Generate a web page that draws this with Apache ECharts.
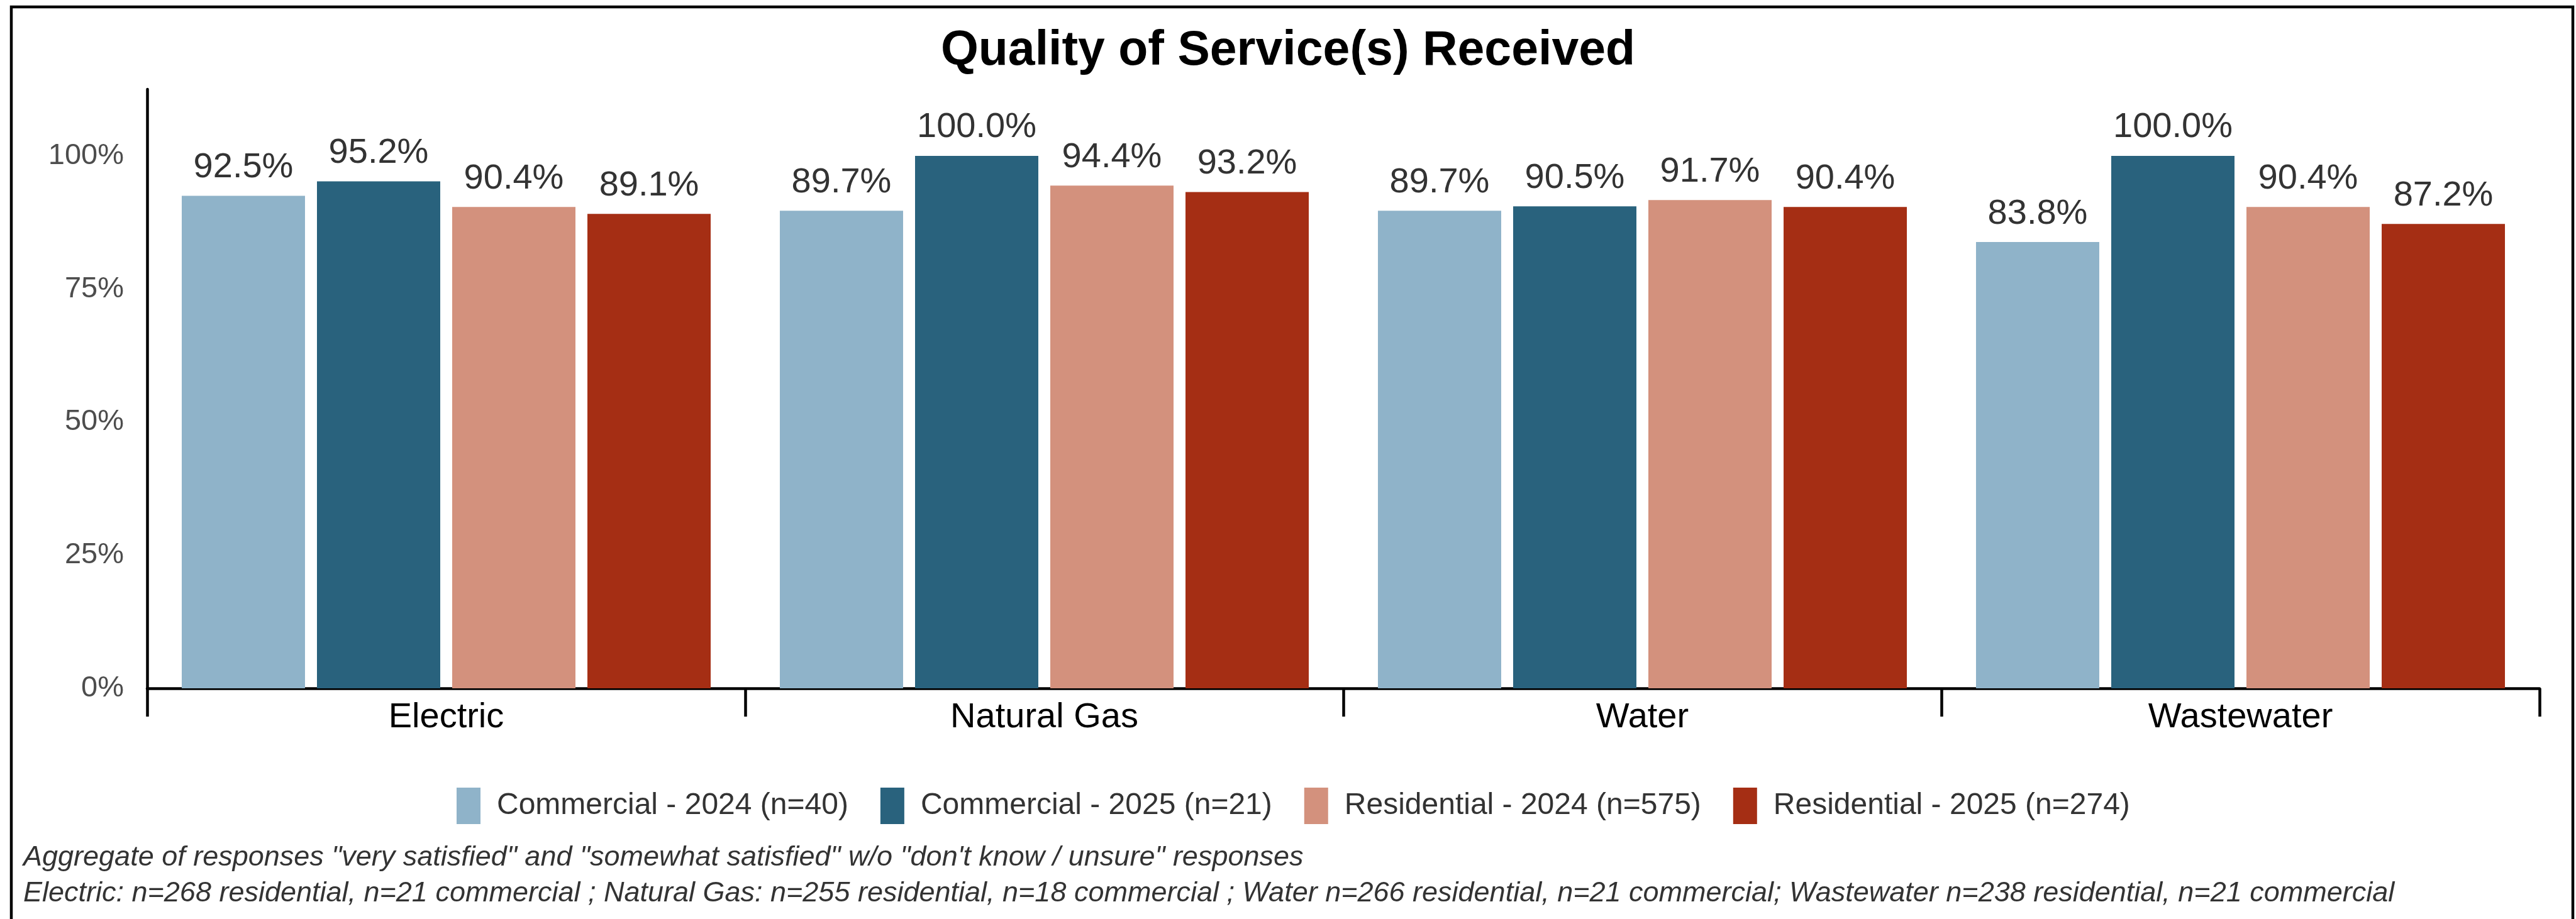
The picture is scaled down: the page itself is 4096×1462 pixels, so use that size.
<!DOCTYPE html>
<html>
<head>
<meta charset="utf-8">
<title>Quality of Service(s) Received</title>
<script src="https://cdn.jsdelivr.net/npm/echarts@6/dist/echarts.min.js"></script>
<style>
  html, body { margin: 0; padding: 0; background: #ffffff; }
  #chart { width: 4096px; height: 1462px; }
</style>
</head>
<body>
<div id="chart"></div>
<script>
// Service categories along the x axis
const categories = ['Electric', 'Natural Gas', 'Water', 'Wastewater'];

// Share satisfied (%) per respondent group
const commercial2024 = [92.5, 89.7, 89.7, 83.8];
const commercial2025 = [95.2, 100.0, 90.5, 100.0];
const residential2024 = [90.4, 94.4, 91.7, 90.4];
const residential2025 = [89.1, 93.2, 90.4, 87.2];

const seriesNames = [
  'Commercial - 2024 (n=40)',
  'Commercial - 2025 (n=21)',
  'Residential - 2024 (n=575)',
  'Residential - 2025 (n=274)'
];
const seriesColors = ['#8fb3c9', '#29627d', '#d3917d', '#a52e14'];

// Y axis ticks every 25%
const yTicks = [0, 25, 50, 75, 100];

const footnotes = [
  'Aggregate of responses "very satisfied" and "somewhat satisfied" w/o "don\'t know / unsure" responses',
  'Electric: n=268 residential, n=21 commercial ; Natural Gas: n=255 residential, n=18 commercial ; Water n=266 residential, n=21 commercial; Wastewater n=238 residential, n=21 commercial'
];

const FONT = '"Liberation Sans", Arial, Helvetica, sans-serif';
const values = [commercial2024, commercial2025, residential2024, residential2025];

const chart = echarts.init(document.getElementById('chart'), null, { renderer: 'canvas' });

const series = values.map((data, i) => ({
  name: seriesNames[i],
  type: 'bar',
  data: data,
  barWidth: 196,
  barGap: '9.7%',
  itemStyle: { color: seriesColors[i] },
  label: {
    show: true,
    position: 'top',
    distance: 17,
    formatter: p => p.value.toFixed(1) + '%',
    fontFamily: FONT,
    fontSize: 56,
    color: '#333333'
  }
}));

chart.setOption({
  backgroundColor: '#ffffff',
  animation: false,
  title: {
    text: 'Quality of Service(s) Received',
    left: 'center',
    top: 38,
    textStyle: { fontFamily: FONT, fontSize: 77, fontWeight: 'bold', color: '#000000' }
  },
  legend: {
    data: seriesNames,
    left: 726,
    top: 1253,
    padding: 0,
    itemWidth: 38,
    itemHeight: 58,
    itemGap: 51,
    icon: 'rect',
    textStyle: { fontFamily: FONT, fontSize: 48, color: '#333333', padding: [0, 0, 0, 21] }
  },
  grid: { left: 234, right: 58, top: 142, bottom: 367, containLabel: false },
  xAxis: {
    type: 'category',
    data: categories,
    axisLine: { show: true, lineStyle: { color: '#000000', width: 4.5 } },
    axisTick: { show: true, alignWithLabel: false, length: 45, lineStyle: { color: '#000000', width: 4.5 } },
    axisLabel: { fontFamily: FONT, fontSize: 56, color: '#000000', margin: 19 },
    splitLine: { show: false }
  },
  yAxis: {
    type: 'value',
    min: 0,
    max: 112.5,
    interval: 25,
    axisLine: { show: true, lineStyle: { color: '#000000', width: 4.5 } },
    axisTick: { show: false },
    splitLine: { show: false },
    axisLabel: {
      fontFamily: FONT,
      fontSize: 47,
      color: '#4d4d4d',
      margin: 37,
      showMaxLabel: false,
      formatter: v => (yTicks.indexOf(v) >= 0 ? v + '%' : '')
    }
  },
  graphic: [
    {
      type: 'rect',
      shape: { x: 18, y: 11, width: 4073, height: 1520 },
      style: { fill: 'none', stroke: '#000000', lineWidth: 4.5 },
      silent: true
    },
    {
      type: 'text',
      style: {
        x: 37, y: 1364, text: footnotes[0], fill: '#333333',
        font: 'italic 45px ' + FONT, verticalAlign: 'middle', align: 'left'
      }
    },
    {
      type: 'text',
      style: {
        x: 37, y: 1421, text: footnotes[1], fill: '#333333',
        font: 'italic 45px ' + FONT, verticalAlign: 'middle', align: 'left'
      }
    }
  ],
  series: series
});
</script>
</body>
</html>
